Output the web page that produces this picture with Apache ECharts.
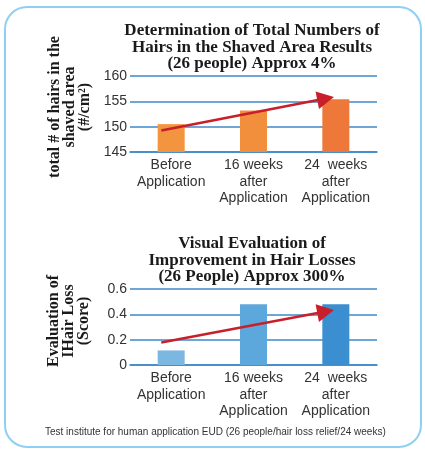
<!DOCTYPE html>
<html>
<head>
<meta charset="utf-8">
<script src="https://cdn.jsdelivr.net/npm/echarts@6/dist/echarts.min.js"></script>
<style>
html,body{margin:0;padding:0;background:#fff;}
#chart{width:425px;height:450px;}
</style>
</head>
<body>
<div id="chart"></div>
<script>
// ---- data ----
var categories = ['Before\nApplication', '16 weeks\nafter\nApplication', '24  weeks\nafter\nApplication'];
var hairCounts = [150.5, 153.2, 155.4];
var hairLossScores = [0.115, 0.48, 0.48];
var topTicks = { min: 145, max: 160, interval: 5 };
var bottomTicks = { min: 0, max: 0.6, interval: 0.2 };
// arrow start / end (x in category index units, y in axis units)
var topArrow = [[-0.12, 149.26], [1.876, 155.54]];
var bottomArrow = [[-0.12, 0.178], [1.876, 0.422]];

var titleTop = 'Determination of Total Numbers of\nHairs in the Shaved Area Results\n(26 people) Approx 4%';
var titleBottom = 'Visual Evaluation of\nImprovement in Hair Losses\n(26 People) Approx 300%';
var yNameTop = 'total # of hairs in the\nshaved area\n(#/cm\u00B2)';
var yNameBottom = 'Evaluation of\nIHair Loss\n(Score)';
var footer = 'Test institute for human application EUD (26 people/hair loss relief/24 weeks)';

// ---- styles ----
var orangeColors = ['#f3953e', '#f28f3c', '#ee7839'];
var blueColors = ['#7cb7e1', '#5ca7dc', '#3b8ecf'];
var gridBlue = '#3f88c8';
var arrowRed = '#c81f2b';
var sans = 'Liberation Sans, Arial, sans-serif';
var serif = 'Liberation Serif, Times New Roman, serif';

function catAxis(gi) {
  return {
    type: 'category', gridIndex: gi, data: categories,
    axisLine: { show: true, lineStyle: { color: gridBlue, width: 1.5 } },
    axisTick: { show: false },
    axisLabel: { color: '#333', fontFamily: sans, fontSize: 14, lineHeight: 16.5, margin: 5, interval: 0 }
  };
}
function valAxis(gi, t) {
  return {
    type: 'value', gridIndex: gi, min: t.min, max: t.max, interval: t.interval,
    axisLine: { show: false }, axisTick: { show: false },
    axisLabel: { color: '#333', fontFamily: sans, fontSize: 14, margin: 3 },
    splitLine: { lineStyle: { color: gridBlue, width: 1.5 } }
  };
}
function hiddenX(gi) {
  return { type: 'value', gridIndex: gi, min: -0.5, max: 2.5, show: false };
}
function arrowSeries(xi, yi, pts) {
  return {
    type: 'line', xAxisIndex: xi, yAxisIndex: yi, data: [], silent: true,
    markLine: {
      silent: true, animation: false,
      symbol: ['none', 'triangle'], symbolSize: [18, 17],
      lineStyle: { color: arrowRed, width: 2.5, type: 'solid' },
      itemStyle: { color: arrowRed },
      label: { show: false },
      emphasis: { disabled: true },
      data: [[{ coord: pts[0] }, { coord: pts[1] }]]
    }
  };
}
function barData(vals, colors) {
  return vals.map(function (v, i) { return { value: v, itemStyle: { color: colors[i] } }; });
}

var chart = echarts.init(document.getElementById('chart'), null, { renderer: 'canvas' });
chart.setOption({
  backgroundColor: '#fff',
  animation: false,
  title: [
    { text: titleTop, left: 247, top: 17.5, textAlign: 'center',
      textStyle: { fontFamily: serif, fontWeight: 'bold', fontSize: 17, lineHeight: 16.5, color: '#1a1a1a' } },
    { text: titleBottom, left: 247, top: 230.5, textAlign: 'center',
      textStyle: { fontFamily: serif, fontWeight: 'bold', fontSize: 17, lineHeight: 16.5, color: '#1a1a1a' } }
  ],
  grid: [
    { left: 130, width: 247, top: 76, height: 76 },
    { left: 130, width: 247, top: 289, height: 76 }
  ],
  xAxis: [catAxis(0), catAxis(1), hiddenX(0), hiddenX(1)],
  yAxis: [valAxis(0, topTicks), valAxis(1, bottomTicks)],
  series: [
    { type: 'bar', xAxisIndex: 0, yAxisIndex: 0, barWidth: 27, data: barData(hairCounts, orangeColors) },
    { type: 'bar', xAxisIndex: 1, yAxisIndex: 1, barWidth: 27, data: barData(hairLossScores, blueColors) },
    arrowSeries(2, 0, topArrow),
    arrowSeries(3, 1, bottomArrow)
  ],
  graphic: [
    { type: 'rect', shape: { x: 5, y: 7, width: 416, height: 440, r: 22 },
      style: { fill: 'none', stroke: '#8fd0f2', lineWidth: 2 }, z: -1 },
    { type: 'text', x: 69.5, y: 107, rotation: Math.PI / 2,
      style: { text: yNameTop, font: 'bold 16px ' + serif, lineHeight: 15, align: 'center', verticalAlign: 'middle', fill: '#1a1a1a' } },
    { type: 'text', x: 68.5, y: 321, rotation: Math.PI / 2,
      style: { text: yNameBottom, font: 'bold 16px ' + serif, lineHeight: 15, align: 'center', verticalAlign: 'middle', fill: '#1a1a1a' } },
    { type: 'text', x: 45, y: 432,
      style: { text: footer, font: '10px ' + sans, align: 'left', verticalAlign: 'middle', fill: '#333' } }
  ]
});
</script>
</body>
</html>
